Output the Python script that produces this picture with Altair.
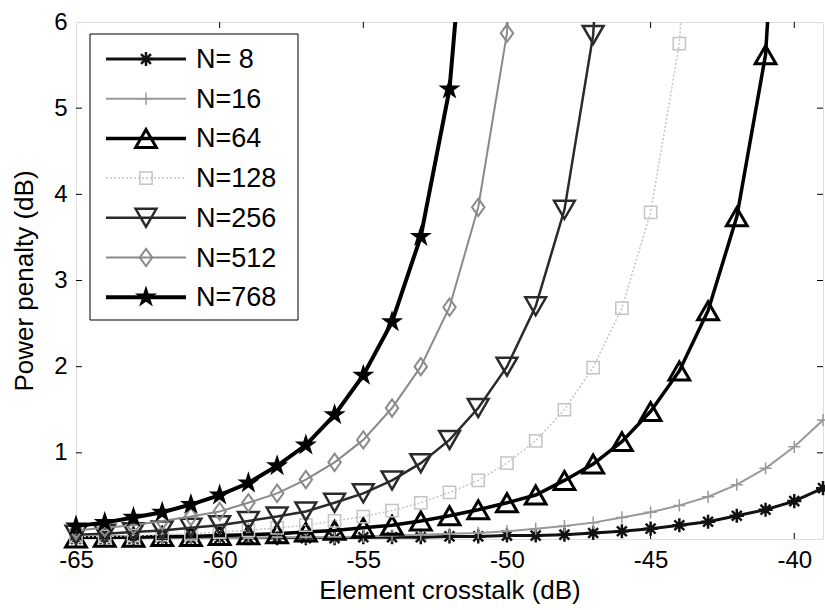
import altair as alt
import pandas as pd

# ---------------- data ----------------
x_vals = list(range(-65, -38))  # -65 ... -39, 1 dB steps

n8 = [0.0, 0.0, 0.0, 0.0, 0.0, 0.01, 0.01, 0.01, 0.01, 0.01, 0.02, 0.02, 0.02,
      0.03, 0.03, 0.04, 0.04, 0.05, 0.07, 0.09, 0.12, 0.16, 0.20, 0.27, 0.34, 0.44, 0.59]
n16 = [0.0, 0.0, 0.01, 0.01, 0.01, 0.01, 0.01, 0.02, 0.02, 0.02, 0.03, 0.04, 0.05,
       0.06, 0.07, 0.09, 0.12, 0.15, 0.19, 0.25, 0.31, 0.39, 0.49, 0.63, 0.82, 1.07, 1.38]
n64 = [0.01, 0.02, 0.02, 0.03, 0.03, 0.04, 0.05, 0.06, 0.08, 0.10, 0.13, 0.16, 0.21,
       0.27, 0.34, 0.42, 0.51, 0.68, 0.87, 1.13, 1.48, 1.95, 2.65, 3.74, 5.62, 11.0]
n128 = [0.03, 0.03, 0.04, 0.05, 0.06, 0.08, 0.10, 0.13, 0.16, 0.21, 0.26, 0.33, 0.42,
        0.54, 0.68, 0.88, 1.14, 1.50, 1.99, 2.68, 3.79, 5.75, 11.0]
n256 = [0.05, 0.06, 0.08, 0.10, 0.13, 0.16, 0.21, 0.26, 0.32, 0.42, 0.53, 0.68, 0.88,
        1.15, 1.52, 2.00, 2.70, 3.82, 5.85, 11.0]
n512 = [0.10, 0.13, 0.16, 0.21, 0.26, 0.32, 0.42, 0.53, 0.69, 0.89, 1.15, 1.52, 2.00,
        2.69, 3.85, 5.87, 11.0]
n768 = [0.15, 0.19, 0.25, 0.31, 0.40, 0.51, 0.65, 0.85, 1.09, 1.44, 1.90, 2.52, 3.51,
        5.22, 9.1]

names = ["N= 8", "N=16", "N=64", "N=128", "N=256", "N=512", "N=768"]
values = [n8, n16, n64, n128, n256, n512, n768]

x_ticks = [-65, -60, -55, -50, -45, -40]
y_ticks = [1, 2, 3, 4, 5, 6]

# ---------------- styles ----------------
STAR = ("M0,-1L0.225,-0.309L0.951,-0.309L0.363,0.118L0.588,0.809L0,0.382"
        "L-0.588,0.809L-0.363,0.118L-0.951,-0.309L-0.225,-0.309Z")
ASTER = "M-1,0L1,0M0,-1L0,1M-0.7,-0.7L0.7,0.7M-0.7,0.7L0.7,-0.7"
PLUS = "M-1,0L1,0M0,-1L0,1"
DIAM = "M0,-1L0.72,0L0,1L-0.72,0Z"

styles = {
    "N= 8":  dict(color="#111111", lw=3.0, dash=None, shape=ASTER, size=200, filled=False, mw=2.5),
    "N=16":  dict(color="#999999", lw=2.0, dash=None, shape=PLUS, size=150, filled=False, mw=1.5),
    "N=64":  dict(color="#000000", lw=3.5, dash=None, shape="triangle-up", size=430, filled=False, mw=3.0),
    "N=128": dict(color="#c4c4c4", lw=1.5, dash=[2, 2], shape="square", size=150, filled=False, mw=1.5),
    "N=256": dict(color="#2a2a2a", lw=2.5, dash=None, shape="triangle-down", size=430, filled=False, mw=2.5),
    "N=512": dict(color="#8a8a8a", lw=2.0, dash=None, shape=DIAM, size=300, filled=False, mw=2.0),
    "N=768": dict(color="#000000", lw=4.0, dash=None, shape=STAR, size=540, filled=True, mw=1.0),
}

FONT = "Liberation Sans"
W, H = 747, 517

xs = alt.Scale(domain=[-65, -39], nice=False, zero=False)
ys = alt.Scale(domain=[0, 6], nice=False, zero=False)

xaxis = alt.Axis(values=x_ticks, title="Element crosstalk (dB)", labelFont=FONT, titleFont=FONT,
                 labelFontSize=24, titleFontSize=26, titleFontWeight="normal",
                 labelColor="black", titleColor="black", ticks=False, domain=False, grid=False,
                 labelPadding=9, labelFlush=False, labelOverlap=False,
                 labelExpr="'' + datum.value",
                 titleY=59, titleBaseline="alphabetic")
yaxis = alt.Axis(values=y_ticks, title="Power penalty (dB)", labelFont=FONT, titleFont=FONT,
                 labelFontSize=24, titleFontSize=26, titleFontWeight="normal",
                 labelColor="black", titleColor="black", ticks=False, domain=False, grid=False,
                 labelPadding=9, labelFlush=False, labelOverlap=False,
                 titleX=-44, titleY=H / 2, titleBaseline="alphabetic")

X = alt.X("x:Q", scale=xs, axis=xaxis)
Y = alt.Y("y:Q", scale=ys, axis=yaxis)

layers = []

# inward tick marks (MATLAB style box ticks)
ytdf = pd.DataFrame({"y": y_ticks[:-1]})
xtdf = pd.DataFrame({"x": x_ticks[1:]})
for x0, x1 in [(0, 6), (W - 6, W)]:
    layers.append(alt.Chart(ytdf).mark_rule(color="black", strokeWidth=1).encode(
        y=Y, x=alt.value(x0), x2=alt.value(x1)))
for y0, y1 in [(H, H - 6), (0, 6)]:
    layers.append(alt.Chart(xtdf).mark_rule(color="black", strokeWidth=1).encode(
        x=X, y=alt.value(y0), y2=alt.value(y1)))

# data series
for name, vals in zip(names, values):
    st = styles[name]
    d = pd.DataFrame({"x": x_vals[:len(vals)], "y": vals})
    lkw = dict(color=st["color"], strokeWidth=st["lw"], clip=True)
    if st["dash"]:
        lkw["strokeDash"] = st["dash"]
    layers.append(alt.Chart(d).mark_line(**lkw).encode(x=X, y=Y))
    dp = d[d["y"] <= 6]
    layers.append(alt.Chart(dp).mark_point(shape=st["shape"], size=st["size"], filled=st["filled"],
                                           color=st["color"], strokeWidth=st["mw"], opacity=1)
                  .encode(x=X, y=Y))

# legend box
one = pd.DataFrame({"a": [0]})
layers.append(alt.Chart(one).mark_rect(fill="white", stroke="black", strokeWidth=1).encode(
    x=alt.value(14), x2=alt.value(222), y=alt.value(12), y2=alt.value(298)))

for i, name in enumerate(names):
    st = styles[name]
    yy = 37 + i * 39.7
    lkw = dict(color=st["color"], strokeWidth=st["lw"])
    if st["dash"]:
        lkw["strokeDash"] = st["dash"]
    layers.append(alt.Chart(one).mark_rule(**lkw).encode(
        x=alt.value(30), x2=alt.value(110), y=alt.value(yy)))
    layers.append(alt.Chart(one).mark_point(shape=st["shape"], size=st["size"], filled=st["filled"],
                                            color=st["color"], strokeWidth=st["mw"], opacity=1)
                  .encode(x=alt.value(70), y=alt.value(yy)))
    layers.append(alt.Chart(one).mark_text(text=name, font=FONT, fontSize=27, color="black",
                                           align="left", baseline="middle")
                  .encode(x=alt.value(120), y=alt.value(yy + 1)))

chart = alt.layer(*layers).properties(
    width=W, height=H,
    autosize=alt.AutoSizeParams(type="none"),
    padding={"left": 76, "top": 22, "right": 2, "bottom": 71},
).configure_view(stroke="black", strokeWidth=1.2).configure(background="white")

chart.save("out.html", embed_options={"renderer": "svg", "actions": False})
